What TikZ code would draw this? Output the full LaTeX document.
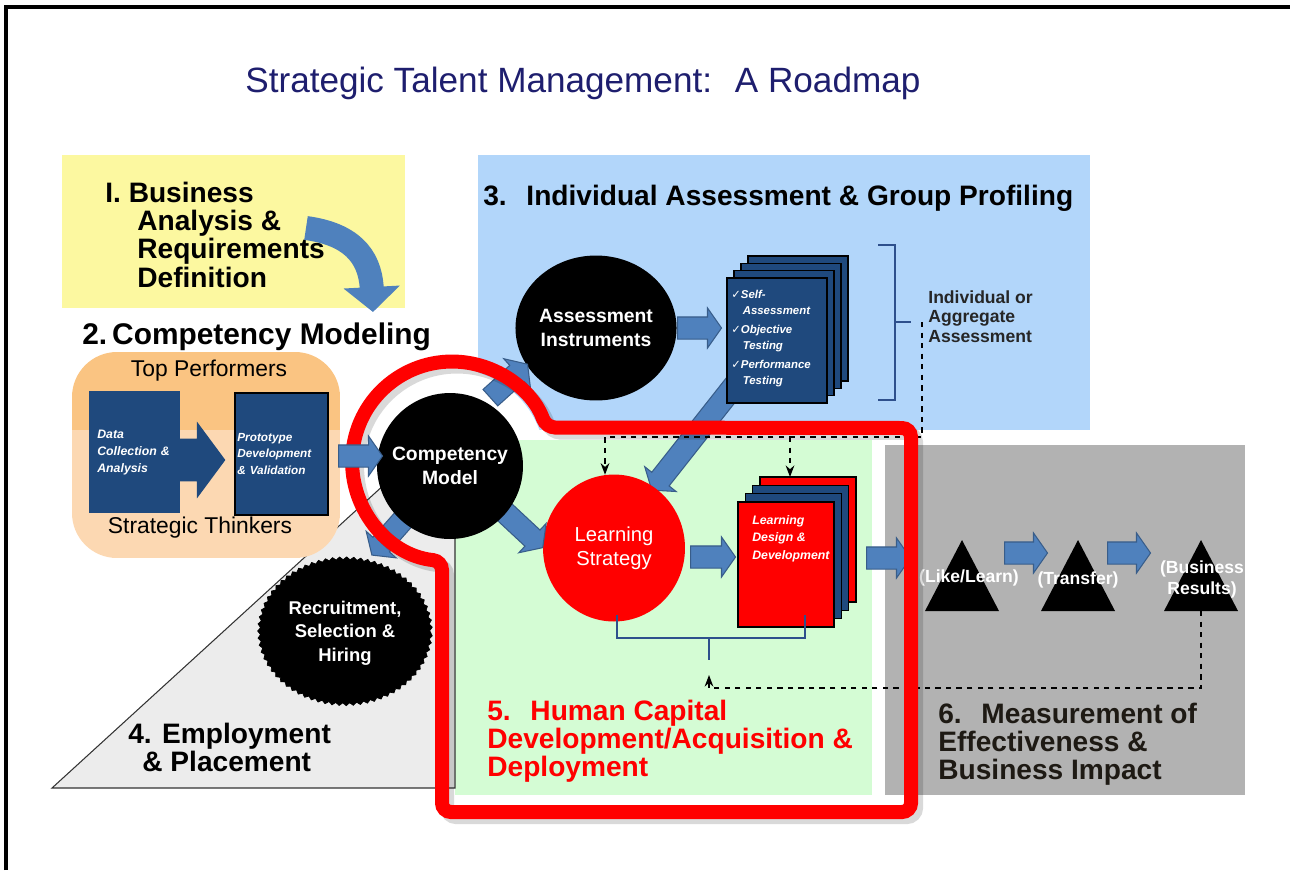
\documentclass[tikz,border=0pt]{standalone}
\usepackage{fontspec}
\setmainfont{Liberation Sans}
\newfontfamily\checkfont{DejaVu Sans}
\usetikzlibrary{shapes.geometric,shapes.arrows,decorations.pathmorphing,arrows.meta}

\definecolor{padyellow}{RGB}{252,248,160}
\definecolor{padblue}{RGB}{178,214,250}
\definecolor{padgreen}{RGB}{212,252,212}
\definecolor{padgray}{RGB}{178,178,178}
\definecolor{padtri}{RGB}{236,236,236}
\definecolor{steel}{RGB}{79,129,189}
\definecolor{steeldark}{RGB}{56,93,138}
\definecolor{docblue}{RGB}{31,73,125}
\definecolor{titlenavy}{RGB}{30,30,110}
\definecolor{orangetop}{RGB}{250,196,130}
\definecolor{orangebot}{RGB}{252,216,178}
\definecolor{brackblue}{RGB}{46,80,140}
\definecolor{darkink}{RGB}{30,26,20}

\tikzset{
	steelarrow/.style={single arrow, fill=steel, draw=steeldark, line width=0.6pt, inner xsep=0pt, inner ysep=0.21cm, single arrow head extend=0.18cm, single arrow tip angle=110, anchor=tail},
	darkarrow/.style={single arrow, fill=docblue, inner xsep=0pt, inner ysep=0.42cm, single arrow head extend=0.34cm, single arrow tip angle=107, anchor=tail},
	blackdisc/.style={fill=black, text=white, font=\bfseries\fontsize{11}{13.5}\selectfont, align=center, inner sep=0pt},
	headline/.style={anchor=north west, inner sep=0pt, align=left, font=\bfseries\fontsize{16}{16}\selectfont},
	doctext/.style={anchor=north west, inner sep=0pt, align=left, text=white, font=\bfseries\itshape\fontsize{6.5}{9}\selectfont},
	docpage/.style={draw=black, line width=0.8pt},
	brack/.style={draw=brackblue, line width=1pt},
	dashline/.style={dashed, line width=0.8pt},
	trilabel/.style={text=white, font=\bfseries\fontsize{10}{12}\selectfont, align=center, inner sep=0pt},
	redline/.style={draw=red, line width=0.28cm, rounded corners=0.18cm},
}

\begin{document}
\begin{tikzpicture}[x=0.02cm,y=-0.02cm]
	\useasboundingbox (0,0) rectangle (1290,870);
	\draw[line width=2pt] (6,870)--(6,7)--(1290,7);
	\node[anchor=base west, inner sep=0, text=titlenavy, font=\fontsize{20}{24}\selectfont] (title) at (245,92) {Strategic Talent Management:~ A Roadmap};

	\fill[padyellow] (62,155) rectangle (405,308);
	\fill[padblue] (478,155) rectangle (1090,430);
	\fill[white] (452,462) circle[radius=93];
	\fill[padgreen] (455,440) rectangle (872,795);
	\fill[padgray] (885,445) rectangle (1245,795);
	\filldraw[fill=padtri, draw=black!80, line width=0.6pt] (52,788) -- (455,420) -- (455,788) -- cycle;

	\begin{scope}
		\clip[rounded corners=0.9cm] (72,352) rectangle (340,558);
		\fill[orangetop] (72,352) rectangle (340,430);
		\fill[orangebot] (72,430) rectangle (340,558);
	\end{scope}
	\node[font=\fontsize{13}{15}\selectfont] (topperf) at (209,371) {Top Performers};
	\node[font=\fontsize{13}{15}\selectfont] (stratthink) at (200,528) {Strategic Thinkers};
	\node[fill=docblue, anchor=north west, minimum height=2.44cm, text width=1.5cm, inner xsep=0.16cm, inner ysep=0pt, align=left, text=white, font=\bfseries\itshape\fontsize{7}{9.6}\selectfont] (datacoll) at (89,391) {Data\\Collection \&\\Analysis};
	\node[darkarrow, minimum height=0.94cm] (datatoproto) at (178,460) {};
	\node[fill=docblue, draw=black, line width=1pt, anchor=north west, minimum height=2.44cm, text width=1.76cm, inner xsep=0.05cm, inner ysep=0pt, align=left, text=white, font=\bfseries\itshape\fontsize{6.7}{9.2}\selectfont] (prototype) at (234,392) {Prototype\\Development\\\& Validation};

	\node[headline] (bizanalysis) at (105,182) {I. Business\\\hspace*{0.64cm}Analysis \&\\\hspace*{0.64cm}Requirements\\\hspace*{0.64cm}Definition};
	\draw[line width=0.48cm, steel, -{Triangle[length=0.5cm,width=1.1cm]}] (306,228) .. controls (350,234) and (370,255) .. (373,312);
	\node[headline, font=\bfseries\fontsize{17}{17}\selectfont] (compmodeling) at (82,322) {2.\,Competency Modeling};

	\node[headline] (assessprof) at (483,185) {3.\hspace{0.7em}Individual Assessment \& Group Profiling};
	\node[blackdisc, ellipse, minimum width=2.74cm, minimum height=2.9cm] (assessinst) at (596,328) {Assessment\\Instruments};
	\node[steelarrow, minimum height=0.88cm] (aitodocs) at (677,328) {};
	\node[steelarrow, minimum height=3cm, rotate=231.7] (docstols) at (745,372) {};
	\foreach \d in {3,2,1,0}
		\filldraw[docpage, fill=docblue] (727+7*\d,278-7.3*\d) rectangle ++(100,125);
	\node[doctext] (instrlist) at (731,290) {{\checkfont ✓}Self-\\\quad Assessment\\[2pt]{\checkfont ✓}Objective\\\quad Testing\\[2pt]{\checkfont ✓}Performance\\\quad Testing};
	\draw[brack] (878,245) -- (895,245) -- (895,400) -- (878,400);
	\draw[brack] (895,322) -- (911,322);
	\node[anchor=north west, inner sep=0, align=left, font=\bfseries\fontsize{10}{11.3}\selectfont, text=black!85] (aggregate) at (928,290) {Individual or\\Aggregate\\Assessment};

	\node[ellipse, fill=red, text=white, minimum width=2.84cm, minimum height=2.94cm, inner sep=0pt, align=center, font=\fontsize{11.5}{13.5}\selectfont] (learnstrat) at (614,548) {Learning\\Strategy};
	\node[steelarrow, minimum height=0.9cm] (lstodesign) at (690,557) {};
	\foreach \d/\c in {3/red,2/docblue,1/docblue,0/red}
		\filldraw[docpage, fill=\c] (738+7.3*\d,502-8.3*\d) rectangle ++(96,125);
	\node[doctext, font=\bfseries\itshape\fontsize{7}{10}\selectfont] (designdev) at (752,515) {Learning\\Design \&\\Development};
	\coordinate (reddoc) at (790,477);
	\draw[brack] (617,615) -- (617,638) -- (805,638) -- (805,615);
	\draw[brack] (709,638) -- (709,660);
	\coordinate (aggtick) at (922,322);
	\coordinate (dashrow) at (0,437);
	\coordinate (brstem) at (709,675);
	\draw[dashline, -{Stealth}] (aggtick) |- (learnstrat.97 |- dashrow) -- (learnstrat.97);
	\draw[dashline, -{Stealth}] (reddoc |- dashrow) -- (reddoc);
	\node[steelarrow, minimum height=0.88cm] (designtomeas) at (866,558) {};

	\foreach \x/\n in {962/tri1,1078/tri2,1201/tri3}{
		\fill (\x,540) -- (\x+37,611) -- (\x-37,611) -- cycle;
		\coordinate (\n) at (\x,611);
	}
	\node[steelarrow, minimum height=0.86cm] (tri1totri2) at (1004,553) {};
	\node[steelarrow, minimum height=0.86cm] (tri2totri3) at (1107,553) {};
	\node[trilabel] (likelearn) at (969,578) {(Like/Learn)};
	\node[trilabel] (transfer) at (1078,580) {(Transfer)};
	\node[trilabel] (bizresults) at (1202,579) {(Business\\Results)};
	\draw[dashline, -{Stealth}] (tri3) -- ++(0,77) -| (brstem);

	\node[ellipse, fill=black, draw=black, decorate, decoration={snake, amplitude=0.8pt, segment length=4pt}, text=white, minimum width=3.44cm, minimum height=2.92cm, inner sep=0pt, align=center, font=\bfseries\fontsize{10.5}{13.5}\selectfont] (recruit) at (345,633) {Recruitment,\\Selection \&\\Hiring};
	\node[steelarrow, minimum height=1cm, rotate=42] (cmtoai) at (490,398) {};
	\node[steelarrow, minimum height=1.24cm, rotate=-43] (cmtols) at (497,505) {};
	\node[steelarrow, minimum height=1.14cm, rotate=-131.5] (cmtorec) at (410,512) {};
	\node[blackdisc, circle, minimum size=2.92cm] (compmodel) at (450,466) {Competency\\Model};

	\draw[redline, draw=black, opacity=0.15, xshift=0.1cm, yshift=-0.1cm] (442,812) -- (442,561) arc[start angle=95.8, end angle=340.1, radius=100] -- (911,428) -- (911,812) -- cycle;
	\draw[redline] (442,812) -- (442,561) arc[start angle=95.8, end angle=340.1, radius=100] -- (911,428) -- (911,812) -- cycle;
	\node[steelarrow, minimum height=0.88cm] (prototocm) at (338,456) {};

	\node[headline, align=left] (employ) at (128,723) {4. Employment\\\hspace*{0.28cm}\& Placement};
	\node[headline, text=red] (humancap) at (487,700) {5.\hspace{0.7em}Human Capital\\Development/Acquisition \&\\Deployment};
	\node[headline, text=darkink] (measure) at (938,703) {6.\hspace{0.7em}Measurement of\\Effectiveness \&\\Business Impact};
\end{tikzpicture}
\end{document}
